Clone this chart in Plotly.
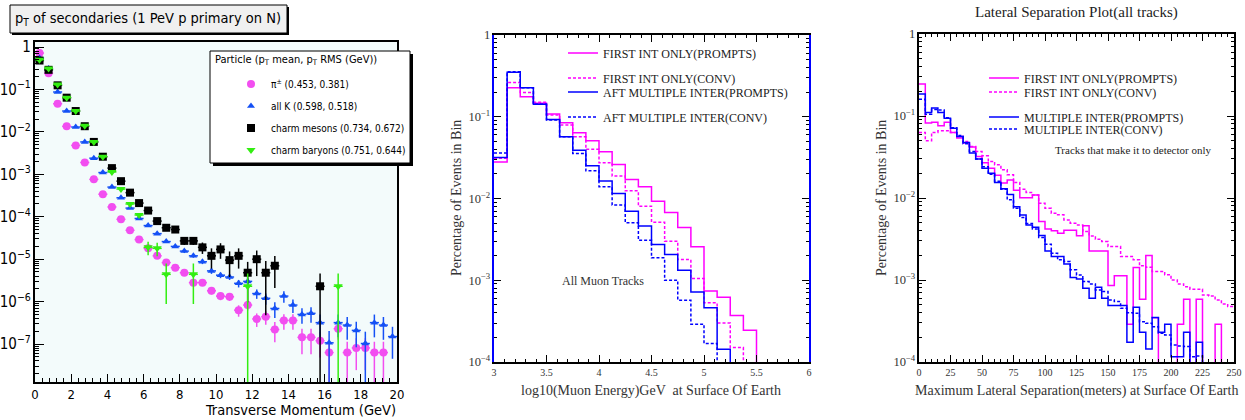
import plotly.graph_objects as go

W, H = 1245, 420
NARROW = "DejaVu Sans Condensed, Liberation Sans Narrow, Liberation Sans, sans-serif"
SERIF = "Liberation Serif, Times New Roman, serif"

# ---------------- Panel 1 data: pT of secondaries ----------------
pt_centers = [0.25, 0.75, 1.25, 1.75, 2.25, 2.75, 3.25, 3.75, 4.25, 4.75,
              5.25, 5.75, 6.25, 6.75, 7.25, 7.75, 8.25, 8.75, 9.25, 9.75,
              10.25, 10.75, 11.25, 11.75, 12.25, 12.75, 13.25, 13.75, 14.25, 14.75,
              15.25, 15.75, 16.25, 16.75, 17.25, 17.75, 18.25, 18.75, 19.25, 19.75]

pion = [0.72, 0.24, 0.046, 0.0135, 0.0048, 0.0019, 7.6e-4, 3.4e-4, 1.7e-4, 8.7e-5,
        4.8e-5, 2.9e-5, 1.8e-5, 1.2e-5, 8.3e-6, 6.3e-6, 4.8e-6, 2.8e-6, 2.8e-6, 1.8e-6,
        1.35e-6, 1.3e-6, 6.3e-7, 8.3e-7, 3.9e-7, 4.4e-7, 2.2e-7, 3.6e-7, 3.6e-7, 1.44e-7,
        1.44e-7, 1.2e-7, 6.3e-8, 2.3e-7, 6.3e-8, 8.1e-8, 8.1e-8, 6.3e-8, 6.3e-8, None]
pion_relerr = [0.05, 0.05, 0.05, 0.05, 0.05, 0.05, 0.05, 0.05, 0.05, 0.05,
               0.05, 0.05, 0.05, 0.05, 0.1, 0.1, 0.12, 0.15, 0.15, 0.18,
               0.2, 0.2, 0.3, 0.25, 0.35, 0.35, 0.5, 0.4, 0.4, 0.6,
               0.6, 0.6, 0.8, 0.45, 0.8, 0.7, 0.7, 0.8, 0.8, 0]

kaon = [0.55, 0.31, 0.087, 0.031, 0.013, 0.0058, 0.0024, 0.0011, 5e-4, 2.8e-4,
        1.6e-4, 9.1e-5, 6.2e-5, 4e-5, 2.6e-5, 2e-5, 1.55e-5, 1.2e-5, 8.7e-6, 5.3e-6,
        4.2e-6, 3.8e-6, 2.7e-6, 3e-6, 1.55e-6, 1.2e-6, 6.9e-7, 1.35e-6, 8.3e-7, 5e-7,
        5.3e-7, 3.2e-7, 1.07e-7, 3.2e-7, 2.8e-7, 2.1e-7, 1.03e-7, 3.2e-7, 2.8e-7, 1.5e-7]
kaon_relerr = [0.05, 0.05, 0.05, 0.05, 0.05, 0.05, 0.05, 0.05, 0.05, 0.05,
               0.05, 0.05, 0.05, 0.05, 0.05, 0.05, 0.1, 0.1, 0.12, 0.15,
               0.15, 0.15, 0.2, 0.2, 0.25, 0.3, 0.4, 0.3, 0.35, 0.4,
               0.4, 0.55, 0.9, 0.55, 0.55, 0.6, 0.9, 0.55, 0.55, 0.7]

charm_meson = [0.48, 0.29, 0.125, 0.064, 0.031, 0.0136, 0.0058, 0.0026, 0.0014, 6.9e-4,
               3.7e-4, 2.1e-4, 1.4e-4, 7.9e-5, 5.5e-5, 5e-5, 2.7e-5, 2.7e-5, 1.9e-5, 1.2e-5,
               1.7e-5, 9.5e-6, 1.2e-5, 4.8e-6, 1e-5, 4.8e-6, 7e-6, None, None, None,
               None, 2.3e-6, None, None, None, None, None, None, None, None]
charm_meson_relerr = [0.05, 0.05, 0.05, 0.05, 0.05, 0.05, 0.05, 0.05, 0.05, 0.05,
                      0.05, 0.05, 0.05, 0.05, 0.15, 0.15, 0.2, 0.2, 0.3, 0.5,
                      0.4, 0.6, 0.5, 0.8, 0.6, 0.9, 0.7, 0, 0, 0,
                      0, 1.0, 0, 0, 0, 0, 0, 0, 0, 0]

charm_baryon = [0.5, 0.31, 0.13, 0.064, 0.031, 0.014, 0.0058, 0.0026, 0.00114, 4.5e-4,
                2e-4, 1.1e-4, 1.9e-5, 1.8e-5, 4.4e-6, None, None, 4.4e-6, None, None,
                None, None, None, 2.3e-6, None, None, None, None, None, None,
                None, None, None, 2.3e-6, None, None, None, None, None, None]
charm_baryon_relerr = [0.05, 0.05, 0.05, 0.05, 0.05, 0.05, 0.05, 0.05, 0.05, 0.05,
                       0.05, 0.05, 0.35, 0.35, 0.8, 0, 0, 0.8, 0, 0,
                       0, 0, 0, 1.0, 0, 0, 0, 0, 0, 0,
                       0, 0, 0, 1.0, 0, 0, 0, 0, 0, 0]

pt_names = ["π<sup>±</sup> (0.453, 0.381)", "all K (0.598, 0.518)",
            "charm mesons (0.734, 0.672)", "charm baryons (0.751, 0.644)"]

# ---------------- Panel 2 data: muon energy ----------------
e_edges = [3.0, 3.125, 3.25, 3.375, 3.5, 3.625, 3.75, 3.875, 4.0, 4.125, 4.25,
           4.375, 4.5, 4.625, 4.75, 4.875, 5.0, 5.125, 5.25, 5.375, 5.5, 5.625]
e_first_prompt = [0.028, 0.226, 0.176, 0.146, 0.108, 0.0845, 0.0637, 0.0508, 0.0372, 0.026, 0.0171,
                  0.0139, 0.00927, 0.00674, 0.00442, 0.00257, 0.00074, 0.00062, 0.00037, 0.000245, 0]
e_first_conv = [0.031, 0.263, 0.198, 0.15, 0.105, 0.079, 0.057, 0.04, 0.0273, 0.0188, 0.0124,
                0.00806, 0.00513, 0.00301, 0.00179, 0.00105, 0.00053, 0.0003, 0.00015, 0, 0]
e_mult_prompt = [0.0318, 0.349, 0.226, 0.142, 0.0927, 0.057, 0.039, 0.0251, 0.0164, 0.0115, 0.007,
                 0.00462, 0.00274, 0.00206, 0.00133, 0.00072, 0.00046, 0.000143, 0, 0, 0]
e_mult_conv = [0.036, 0.356, 0.226, 0.142, 0.091, 0.057, 0.0356, 0.0218, 0.0139, 0.0083, 0.00504,
               0.00309, 0.00188, 0.001, 0.00057, 0.00029, 0.000168, 0, 0, 0, 0]

# ---------------- Panel 3 data: lateral separation ----------------
lat_edges = [0, 5, 10, 15, 20, 25, 30, 35, 40, 45, 50, 55, 60, 65, 70, 75, 80, 85, 90, 95,
             100, 105, 110, 115, 120, 125, 130, 135, 140, 145, 150, 155, 160, 165, 170, 175,
             180, 185, 190, 195, 200, 205, 210, 215, 220, 225, 230, 235, 240, 245, 250]
l_first_prompt = [0.245, 0.082, 0.084, 0.076, 0.084, 0.063, 0.054, 0.047, 0.042, 0.032,
                  0.027, 0.023, 0.019, 0.0152, 0.0166, 0.0124, 0.0101, 0.0101, 0.0109, 0.00516,
                  0.0042, 0.00398, 0.00372, 0.00403, 0.00403, 0.00346, 0.00458, 0.00226, 0.00226, 0.00226,
                  0.000855, 0.00113, 0.00113, 0.000288, 0.00142, 0.000582, 0.00199, 0.000347, 0, 0,
                  0, 0.000288, 0.000582, 0, 0.000582, 0, 0, 0.000288, 0, 0]
l_first_conv = [0.063, 0.050, 0.063, 0.066, 0.066, 0.063, 0.0564, 0.049, 0.0425, 0.037,
                0.0327, 0.0279, 0.0254, 0.0221, 0.0192, 0.0155, 0.0128, 0.0117, 0.0109, 0.00865,
                0.0075, 0.00653, 0.00623, 0.00541, 0.00493, 0.0047, 0.0039, 0.00345, 0.00314, 0.00294,
                0.00256, 0.00256, 0.00193, 0.00193, 0.00176, 0.00149, 0.00143, 0.00127, 0.00127, 0.00116,
                0.001, 0.000896, 0.00083, 0.00077, 0.00077, 0.000657, 0.00064, 0.000571, 0.00051, 0.000474]
l_mult_prompt = [0.185, 0.11, 0.125, 0.11, 0.094, 0.071, 0.0563, 0.0476, 0.0353, 0.0298,
                 0.0231, 0.0201, 0.0155, 0.013, 0.011, 0.0078, 0.0062, 0.0047, 0.0044, 0.00348,
                 0.00226, 0.00193, 0.00193, 0.00157, 0.00107, 0.00103, 0.000794, 0.000598, 0.000816, 0.000598,
                 0.000487, 0.000487, 0.000487, 0.000174, 0.000465, 0.00023, 0.000144, 0.000348, 0.00023, 0.000288,
                 0.000116, 0.000116, 0.00023, 0, 0.000174, 0, 0, 0, 0, 0]
l_mult_conv = [0.16, 0.105, 0.12, 0.118, 0.095, 0.072, 0.058, 0.046, 0.037, 0.03,
               0.024, 0.0195, 0.016, 0.0128, 0.0095, 0.0075, 0.0058, 0.0049, 0.0042, 0.0033,
               0.00273, 0.00212, 0.00176, 0.00168, 0.00133, 0.00115, 0.000957, 0.000896, 0.000757, 0.000722,
               0.000571, 0.000545, 0.000452, 0.0004, 0.000393, 0.00031, 0.000296, 0.00027, 0.000224, 0.000214,
               0.000161, 0.000157, 0.000154, 0.000116, 0.000118, 0, 0, 0, 0, 0]

FLOOR = 1e-7  # empty bins are drawn below the visible log range


def px(x):
    return x / W


def py(y):
    return 1 - y / H


def step_xy(edges, vals):
    ys = [v if v and v > 0 else FLOOR for v in vals]
    return edges[:len(ys) + 1], ys + [ys[-1]]


def errs(vals, rel):
    up, dn = [], []
    for v, r in zip(vals, rel):
        if v is None:
            up.append(0)
            dn.append(0)
        else:
            up.append(v * r)
            dn.append(v * min(r, 0.999))
    return up, dn


fig = go.Figure()

MAGENTA = "#ff00ff"
BLUE = "#0000ff"
PION_C = "#f24ef0"
KAON_C = "#1450f5"
GREEN_C = "#33ee11"

legend_layouts = {}

p1_series = [
    (pion, pion_relerr, PION_C, "circle", 8, 84),
    (kaon, kaon_relerr, KAON_C, "triangle-up", 7, 106),
    (charm_meson, charm_meson_relerr, "#000000", "square", 8, 128),
    (charm_baryon, charm_baryon_relerr, GREEN_C, "triangle-down", 8, 150),
]
for i, ((vals, rel, col, sym, sz, ly), name) in enumerate(zip(p1_series, pt_names)):
    up, dn = errs(vals, rel)
    lg = "legend" if i == 0 else "legend%d" % (i + 9)
    fig.add_trace(go.Scatter(
        x=pt_centers, y=vals, mode="markers", name=name,
        marker=dict(symbol=sym, size=sz, color=col),
        error_x=dict(type="constant", value=0.25, width=0, thickness=1.5, color=col),
        error_y=dict(type="data", array=up, arrayminus=dn, symmetric=False,
                     width=0, thickness=1.5, color=col),
        xaxis="x", yaxis="y", legend=lg, cliponaxis=True,
    ))
    legend_layouts[lg] = dict(x=px(231), y=py(ly), xanchor="left", yanchor="middle",
                              bgcolor="rgba(0,0,0,0)", borderwidth=0,
                              font=dict(family=NARROW, size=10, color="#000"))

p2_series = [
    (e_first_prompt, MAGENTA, "solid", "FIRST INT ONLY(PROMPTS)", 53),
    (e_first_conv, MAGENTA, "3px,2px", "FIRST INT ONLY(CONV)", 78),
    (e_mult_prompt, BLUE, "solid", "AFT MULTIPLE INTER(PROMPTS)", 92),
    (e_mult_conv, BLUE, "3px,2px", "AFT MULTIPLE INTER(CONV)", 117),
]
for i, (vals, col, dash, name, ly) in enumerate(p2_series):
    xs, ys = step_xy(e_edges, vals)
    lg = "legend%d" % (i + 2)
    fig.add_trace(go.Scatter(
        x=xs, y=ys, mode="lines", line=dict(color=col, width=1.5, dash=dash, shape="hv"),
        name=name, xaxis="x2", yaxis="y2", legend=lg,
    ))
    legend_layouts[lg] = dict(x=px(563), y=py(ly), xanchor="left", yanchor="middle",
                              bgcolor="rgba(0,0,0,0)", borderwidth=0,
                              font=dict(family=SERIF, size=12, color="#222"))

p3_series = [
    (l_first_prompt, MAGENTA, "solid", "FIRST INT ONLY(PROMPTS)", 78),
    (l_first_conv, MAGENTA, "3px,2px", "FIRST INT ONLY(CONV)", 92),
    (l_mult_prompt, BLUE, "solid", "MULTIPLE INTER(PROMPTS)", 117),
    (l_mult_conv, BLUE, "3px,2px", "MULTIPLE INTER(CONV)", 129),
]
for i, (vals, col, dash, name, ly) in enumerate(p3_series):
    xs, ys = step_xy(lat_edges, vals)
    lg = "legend%d" % (i + 6)
    fig.add_trace(go.Scatter(
        x=xs, y=ys, mode="lines", line=dict(color=col, width=1.5, dash=dash, shape="hv"),
        name=name, xaxis="x3", yaxis="y3", legend=lg,
    ))
    legend_layouts[lg] = dict(x=px(984), y=py(ly), xanchor="left", yanchor="middle",
                              bgcolor="rgba(0,0,0,0)", borderwidth=0,
                              font=dict(family=SERIF, size=12, color="#222"))

# ---------------- axes ----------------
p1_tickfont = dict(family=NARROW, size=13, color="#000")
serif_tick = dict(family=SERIF, size=10, color="#333")

layout_axes = dict(
    xaxis=dict(domain=[px(35), px(397)], range=[0, 20], anchor="y", automargin=False,
               showline=True, linecolor="#000", linewidth=1.5, mirror=True,
               ticks="inside", ticklen=8, tickwidth=1, tickcolor="#000",
               dtick=2, tick0=0, showgrid=False, zeroline=False, tickfont=p1_tickfont,
               minor=dict(ticks="inside", ticklen=4, dtick=0.4, tickcolor="#000", showgrid=False)),
    yaxis=dict(domain=[py(382), py(42)], type="log", range=[-7.894, 0.118], anchor="x",
               automargin=False,
               showline=True, linecolor="#000", linewidth=1.5, mirror=True,
               ticks="inside", ticklen=9, tickwidth=1, tickcolor="#000",
               dtick=1, exponentformat="power", showgrid=False, zeroline=False,
               tickfont=dict(family=NARROW, size=12, color="#000"),
               minor=dict(ticks="inside", ticklen=4, tickcolor="#000", showgrid=False, dtick="D1")),
    xaxis2=dict(domain=[px(494), px(809)], range=[3, 6], anchor="y2", automargin=False,
                showline=True, linecolor="#000", linewidth=1.5, mirror="allticks",
                ticks="inside", ticklen=7, tickcolor="#000", dtick=0.5, tick0=3,
                showgrid=False, zeroline=False, tickfont=serif_tick,
                minor=dict(ticks="inside", ticklen=3, dtick=0.1, tickcolor="#000", showgrid=False)),
    yaxis2=dict(domain=[py(362), py(35)], type="log", range=[-4, 0], anchor="x2", automargin=False,
                showline=True, linecolor=BLUE, linewidth=1.5, mirror="allticks",
                ticks="inside", ticklen=7, tickcolor="#000", dtick=1, exponentformat="power",
                showgrid=False, zeroline=False, tickfont=serif_tick,
                minor=dict(ticks="inside", ticklen=3, tickcolor="#000", showgrid=False, dtick="D1")),
    xaxis3=dict(domain=[px(919), px(1234)], range=[0, 250], anchor="y3", automargin=False,
                showline=True, linecolor="#000", linewidth=1.5, mirror="allticks",
                ticks="inside", ticklen=7, tickcolor="#000", dtick=25, tick0=0,
                showgrid=False, zeroline=False, tickfont=serif_tick,
                minor=dict(ticks="inside", ticklen=3, dtick=5, tickcolor="#000", showgrid=False)),
    yaxis3=dict(domain=[py(362), py(34)], type="log", range=[-4, 0], anchor="x3", automargin=False,
                showline=True, linecolor="#000", linewidth=1.5, mirror="allticks",
                ticks="inside", ticklen=7, tickcolor="#000", dtick=1, exponentformat="power",
                showgrid=False, zeroline=False, tickfont=serif_tick,
                minor=dict(ticks="inside", ticklen=3, tickcolor="#000", showgrid=False, dtick="D1")),
)

shapes = [
    # panel 1 frame fill
    dict(type="rect", xref="x domain", yref="y domain", x0=0, x1=1, y0=0, y1=1,
         fillcolor="#f3fbfb", line=dict(width=0), layer="below"),
    # title box shadow + box
    dict(type="rect", xref="paper", yref="paper", x0=px(12), x1=px(289), y0=py(35), y1=py(7),
         fillcolor="#000", line=dict(width=0)),
    dict(type="rect", xref="paper", yref="paper", x0=px(10), x1=px(287), y0=py(33), y1=py(5),
         fillcolor="#f0f0f0", line=dict(color="#000", width=1)),
    # legend box shadow + box
    dict(type="rect", xref="paper", yref="paper", x0=px(213), x1=px(413), y0=py(166), y1=py(54),
         fillcolor="#000", line=dict(width=0)),
    dict(type="rect", xref="paper", yref="paper", x0=px(210), x1=px(410), y0=py(163), y1=py(51),
         fillcolor="#ffffff", line=dict(color="#000", width=1)),
]

annotations = [
    dict(text="p<sub>T</sub> of secondaries (1 PeV p primary on N)", x=px(148), y=py(19),
         xref="paper", yref="paper", showarrow=False, xanchor="center", yanchor="middle",
         font=dict(family=NARROW, size=14.5, color="#000")),
    dict(text="Transverse Momentum (GeV)", x=px(398), y=py(410), xref="paper", yref="paper",
         showarrow=False, xanchor="right", yanchor="middle",
         font=dict(family=NARROW, size=14.5, color="#000")),
    dict(text="Particle (p<sub>T</sub> mean, p<sub>T</sub> RMS (GeV))", x=px(213), y=py(60),
         xref="paper", yref="paper", showarrow=False, xanchor="left", yanchor="middle",
         font=dict(family=NARROW, size=11, color="#000")),
    dict(text="log10(Muon Energy)GeV  at Surface Of Earth", x=px(651), y=py(391),
         xref="paper", yref="paper", showarrow=False, xanchor="center", yanchor="middle",
         font=dict(family=SERIF, size=14, color="#333")),
    dict(text="Percentage of Events in Bin", x=px(456), y=py(198), textangle=-90,
         xref="paper", yref="paper", showarrow=False, xanchor="center", yanchor="middle",
         font=dict(family=SERIF, size=14, color="#333")),
    dict(text="All Muon Tracks", x=px(560), y=py(281), xref="paper", yref="paper",
         showarrow=False, xanchor="left", yanchor="middle",
         font=dict(family=SERIF, size=12, color="#333")),
    dict(text="Lateral Separation Plot(all tracks)", x=px(1076), y=py(12),
         xref="paper", yref="paper", showarrow=False, xanchor="center", yanchor="middle",
         font=dict(family=SERIF, size=15, color="#222")),
    dict(text="Maximum Lateral Separation(meters) at Surface Of Earth", x=px(1076), y=py(391),
         xref="paper", yref="paper", showarrow=False, xanchor="center", yanchor="middle",
         font=dict(family=SERIF, size=14, color="#333")),
    dict(text="Percentage of Events in Bin", x=px(881), y=py(198), textangle=-90,
         xref="paper", yref="paper", showarrow=False, xanchor="center", yanchor="middle",
         font=dict(family=SERIF, size=14, color="#333")),
    dict(text="Tracks that make it to detector only", x=px(1053), y=py(150),
         xref="paper", yref="paper", showarrow=False, xanchor="left", yanchor="middle",
         font=dict(family=SERIF, size=11, color="#222")),
]

fig.update_layout(
    width=W, height=H, margin=dict(l=0, r=0, t=0, b=0, autoexpand=False),
    paper_bgcolor="#ffffff", plot_bgcolor="#ffffff",
    showlegend=True,
    shapes=shapes, annotations=annotations,
    **layout_axes,
    **legend_layouts,
)

fig.write_html("out.html", config={"displayModeBar": False},
               post_script="document.body.style.margin='0';")
